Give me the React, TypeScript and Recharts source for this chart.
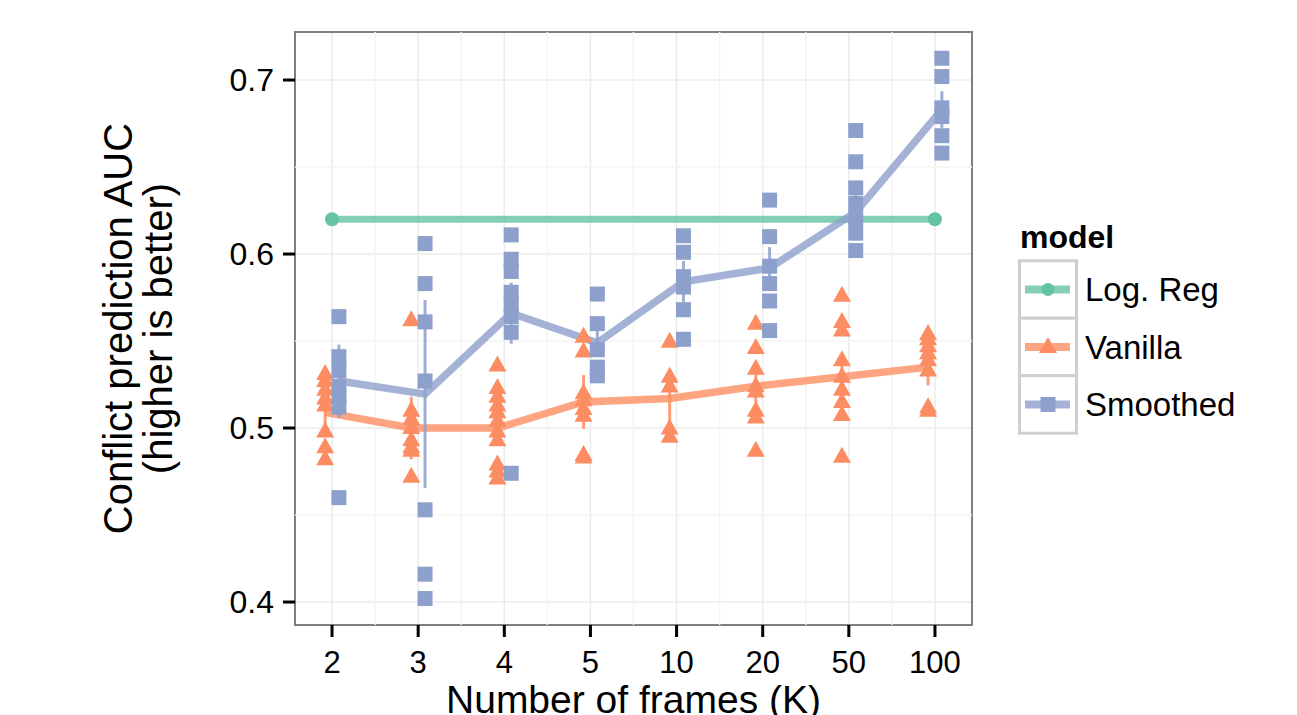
import React from 'react';
import {
  ComposedChart,
  Scatter,
  Line,
  XAxis,
  YAxis,
  CartesianGrid,
  ReferenceLine,
  ReferenceArea,
  ErrorBar,
  Legend,
} from 'recharts';

// ---------- data ----------
const frameLabels = ['2', '3', '4', '5', '10', '20', '50', '100'];

const vanillaRuns: number[][] = [
  [0.531, 0.527, 0.522, 0.517, 0.513, 0.498, 0.489, 0.482],
  [0.562, 0.51, 0.505, 0.5, 0.493, 0.489, 0.487, 0.472],
  [0.536, 0.523, 0.518, 0.513, 0.509, 0.504, 0.498, 0.493, 0.479, 0.475, 0.471],
  [0.5525, 0.544, 0.52, 0.516, 0.511, 0.507, 0.4845, 0.483],
  [0.5496, 0.5295, 0.5238, 0.4998, 0.495],
  [0.56, 0.546, 0.534, 0.524, 0.521, 0.51, 0.506, 0.487],
  [0.576, 0.561, 0.556, 0.539, 0.5295, 0.522, 0.515, 0.5075, 0.4835],
  [0.554, 0.551, 0.547, 0.543, 0.539, 0.533, 0.512, 0.51],
];

const smoothedRuns: number[][] = [
  [0.564, 0.541, 0.533, 0.524, 0.518, 0.512, 0.46],
  [0.606, 0.583, 0.561, 0.527, 0.453, 0.416, 0.402],
  [0.611, 0.597, 0.59, 0.578, 0.571, 0.564, 0.555, 0.474],
  [0.577, 0.56, 0.545, 0.535, 0.53],
  [0.6105, 0.601, 0.587, 0.581, 0.568, 0.551],
  [0.631, 0.61, 0.593, 0.583, 0.573, 0.556],
  [0.671, 0.653, 0.638, 0.629, 0.6205, 0.612, 0.602],
  [0.7125, 0.702, 0.684, 0.679, 0.668, 0.658],
];

const vanillaMean = [0.509, 0.5, 0.5, 0.515, 0.517, 0.524, 0.5295, 0.535];
const vanillaErr = [0.008, 0.018, 0.008, 0.0155, 0.0165, 0.01, 0.012, 0.0105];

const smoothedMean = [0.527, 0.5195, 0.566, 0.549, 0.584, 0.592, 0.624, 0.683];
const smoothedErr = [0.021, 0.054, 0.0175, 0.007, 0.012, 0.012, 0.012, 0.0105];

const logRegFrames = ['2', '100'];
const logRegValue = 0.62;

const yTicks = [0.4, 0.5, 0.6, 0.7];
const yMinor = [0.45, 0.55, 0.65];
const yDomain: [number, number] = [0.3868, 0.7276];
const xDomain: [number, number] = [-0.43, 7.43];

const legendItems = ['Log. Reg', 'Vanilla', 'Smoothed'];

// ---------- styling ----------
const COLORS = { logreg: '#66C2A5', vanilla: '#FC8D62', smoothed: '#8DA0CB' };
const DODGE = 0.08;
const FONT = '"Liberation Sans", Arial, Helvetica, sans-serif';

// ---------- derived tables ----------
const xIndex = frameLabels.map((_, i) => i);
const xMinor = xIndex.slice(1).map((i) => i - 0.5);

const vanillaPoints = vanillaRuns.flatMap((runs, i) => runs.map((y) => ({ x: i - DODGE, y })));
const smoothedPoints = smoothedRuns.flatMap((runs, i) => runs.map((y) => ({ x: i + DODGE, y })));
const vanillaLine = vanillaMean.map((y, i) => ({ x: i - DODGE, y, err: vanillaErr[i] }));
const smoothedLine = smoothedMean.map((y, i) => ({ x: i + DODGE, y, err: smoothedErr[i] }));
const logRegLine = logRegFrames.map((f) => ({ x: frameLabels.indexOf(f), y: logRegValue }));

// ---------- shapes ----------
const Triangle = (p: any) => {
  const { cx, cy } = p;
  if (cx == null || cy == null) return null;
  return <path d={`M${cx},${cy - 10}L${cx + 9},${cy + 6}L${cx - 9},${cy + 6}Z`} fill={COLORS.vanilla} />;
};
const Square = (p: any) => {
  const { cx, cy } = p;
  if (cx == null || cy == null) return null;
  return <rect x={cx - 7.5} y={cy - 7.5} width={15} height={15} fill={COLORS.smoothed} />;
};

const YTitle = (props: any) => {
  const vb = props.viewBox || { x: 0, y: 32, width: 295, height: 593 };
  const cy = vb.y + vb.height / 2;
  const x1 = 132;
  const x2 = 172;
  return (
    <g>
      <text x={x1} y={cy} transform={`rotate(-90, ${x1}, ${cy})`} textAnchor="middle" fontSize={40} fill="#000" fontFamily={FONT}>
        Conflict prediction AUC
      </text>
      <text x={x2} y={cy} transform={`rotate(-90, ${x2}, ${cy})`} textAnchor="middle" fontSize={40} fill="#000" fontFamily={FONT}>
        (higher is better)
      </text>
    </g>
  );
};

const LegendBox = () => {
  const rowH = 57.5;
  const top = 45.7;
  const colors = [COLORS.logreg, COLORS.vanilla, COLORS.smoothed];
  return (
    <svg width={260} height={230} style={{ overflow: 'visible' }}>
      <text x={2} y={33} fontSize={32} fontWeight="bold" fontFamily={FONT} fill="#000">
        model
      </text>
      {legendItems.map((name, i) => {
        const y0 = top + i * rowH;
        const cy = y0 + rowH / 2;
        const c = colors[i];
        return (
          <g key={name}>
            <rect x={1.5} y={y0} width={57} height={rowH} fill="#fff" stroke="#cfcfcf" strokeWidth={3} />
            <line x1={7} x2={52} y1={cy} y2={cy} stroke={c} strokeOpacity={0.8} strokeWidth={8} />
            {i === 0 && <circle cx={30} cy={cy} r={6.5} fill={c} />}
            {i === 1 && <path d={`M30,${cy - 10}L39,${cy + 6}L21,${cy + 6}Z`} fill={c} />}
            {i === 2 && <rect x={22.5} y={cy - 7.5} width={15} height={15} fill={c} />}
            <text x={67} y={cy + 12} fontSize={33} fontFamily={FONT} fill="#000">
              {name}
            </text>
          </g>
        );
      })}
    </svg>
  );
};

export default function App() {
  return (
    <div style={{ position: 'absolute', left: 0, top: 0, width: 1297, height: 715, background: '#fff', fontFamily: FONT }}>
      <ComposedChart width={1297} height={715} margin={{ top: 32, right: 325, bottom: 0, left: 0 }}>
        <CartesianGrid stroke="#ebebeb" strokeWidth={1.5} />
        {yMinor.map((v) => (
          <ReferenceLine key={`ym${v}`} y={v} stroke="#f4f4f4" strokeWidth={1.5} />
        ))}
        {xMinor.map((v) => (
          <ReferenceLine key={`xm${v}`} x={v} stroke="#f4f4f4" strokeWidth={1.5} />
        ))}
        <XAxis
          type="number"
          dataKey="x"
          domain={xDomain}
          allowDataOverflow
          ticks={xIndex}
          interval={0}
          tickFormatter={(v: number) => frameLabels[Math.round(v)]}
          axisLine={false}
          tickLine={{ stroke: '#000', strokeWidth: 3 }}
          tickSize={12}
          tickMargin={14}
          tick={{ fill: '#000', fontSize: 31, fontFamily: FONT }}
          height={90}
          label={{ value: 'Number of frames (K)', position: 'insideBottom', offset: 2, fill: '#000', fontSize: 39, fontFamily: FONT }}
        />
        <YAxis
          type="number"
          dataKey="y"
          domain={yDomain}
          allowDataOverflow
          ticks={yTicks}
          interval={0}
          tickFormatter={(v: number) => v.toFixed(1)}
          axisLine={false}
          tickLine={{ stroke: '#000', strokeWidth: 3 }}
          tickSize={12}
          tickMargin={9}
          tick={{ fill: '#000', fontSize: 32, fontFamily: FONT }}
          width={295}
          label={YTitle}
        />
        <Line
          data={logRegLine}
          dataKey="y"
          stroke={COLORS.logreg}
          strokeOpacity={0.8}
          strokeWidth={7}
          dot={{ r: 7, fill: COLORS.logreg, stroke: 'none' }}
          activeDot={false}
          isAnimationActive={false}
        />
        <Scatter data={vanillaPoints} shape={Triangle} isAnimationActive={false} />
        <Scatter data={smoothedPoints} shape={Square} isAnimationActive={false} />
        <Line
          data={vanillaLine}
          dataKey="y"
          stroke={COLORS.vanilla}
          strokeOpacity={0.8}
          strokeWidth={7.5}
          dot={false}
          activeDot={false}
          isAnimationActive={false}
        >
          <ErrorBar dataKey="err" direction="y" width={0} stroke="rgba(252,141,98,0.85)" strokeWidth={3} isAnimationActive={false} />
        </Line>
        <Line
          data={smoothedLine}
          dataKey="y"
          stroke={COLORS.smoothed}
          strokeOpacity={0.8}
          strokeWidth={7.5}
          dot={false}
          activeDot={false}
          isAnimationActive={false}
        >
          <ErrorBar dataKey="err" direction="y" width={0} stroke="rgba(141,160,203,0.85)" strokeWidth={3} isAnimationActive={false} />
        </Line>
        <ReferenceArea
          x1={xDomain[0]}
          x2={xDomain[1]}
          y1={yDomain[0]}
          y2={yDomain[1]}
          fill="none"
          stroke="#7f7f7f"
          strokeWidth={2}
          ifOverflow="visible"
        />
        <Legend
          layout="horizontal"
          verticalAlign="middle"
          align="center"
          content={() => <LegendBox />}
          wrapperStyle={{ left: 1018, top: 215, width: 260, height: 230 }}
        />
      </ComposedChart>
    </div>
  );
}
